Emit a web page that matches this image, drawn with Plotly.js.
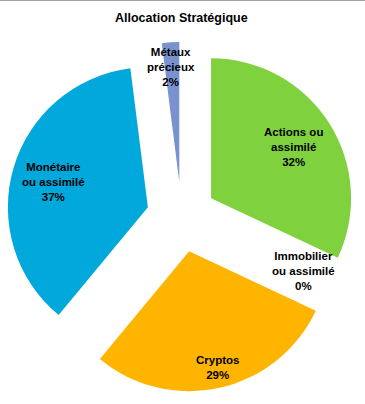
<!DOCTYPE html>
<html>
<head>
<meta charset="utf-8">
<script src="https://cdn.plot.ly/plotly-3.0.1.min.js"></script>
<style>html,body{margin:0;padding:0;background:#fff;}#chart{width:365px;height:404px;}</style>
</head>
<body>
<div id="chart"></div>
<script>
const titleText = "Allocation Stratégique";
const categories = ["Actions ou assimilé", "Immobilier ou assimilé", "Cryptos", "Monétaire ou assimilé", "Métaux précieux"];
const labelLines = ["Actions ou<br>assimilé", "Immobilier<br>ou assimilé", "Cryptos", "Monétaire<br>ou assimilé", "Métaux<br>précieux"];
const values = [32, 0, 29, 37, 2];
const colors = ["#80D13E", "#A5A5A5", "#FFB500", "#00A8DC", "#7A93D0"];

// plot area in pixels
const M = {l: 6, r: 8, t: 42, b: 12};
const W = 365, H = 404;
const pw = W - M.l - M.r, ph = H - M.t - M.b;
function px(x) { return (x - M.l) / pw; }
function py(y) { return (H - M.b - y) / ph; }

// label anchor points (pixels) for each category
const labelPos = [[293, 147], [303, 271], [217, 367], [53, 182], [171, 67]];

const annotations = categories.map((c, i) => ({
  text: labelLines[i] + "<br>" + values[i] + "%",
  xref: "paper", yref: "paper",
  x: px(labelPos[i][0]), y: py(labelPos[i][1]),
  xanchor: "center", yanchor: "middle",
  showarrow: false, align: "center",
  font: {family: "Liberation Sans, Arial, sans-serif", size: 11.5, color: "#000", weight: "bold"}
}));

annotations.push({
  text: titleText, xref: "paper", yref: "paper",
  x: px(181), y: py(18), xanchor: "center", yanchor: "middle", showarrow: false,
  font: {family: "Liberation Sans, Arial, sans-serif", size: 12.5, color: "#000", weight: "bold"}
});

const trace = {
  type: "pie",
  labels: categories,
  values: values,
  sort: false,
  direction: "clockwise",
  rotation: 0,
  pull: values.map(() => 0.25),
  marker: {colors: colors, line: {width: 0}},
  textinfo: "none",
  hoverinfo: "label+percent",
  showlegend: false
};

const layout = {
  width: W, height: H,
  margin: M,
  paper_bgcolor: "#ffffff",
  plot_bgcolor: "#ffffff",
  showlegend: false,
  annotations: annotations,
  shapes: [{type: "line", xref: "paper", yref: "paper",
    x0: px(0), x1: px(W), y0: py(0.5), y1: py(0.5),
    line: {color: "#A0A0A0", width: 1}}]
};

Plotly.newPlot("chart", [trace], layout, {displayModeBar: false, staticPlot: true});
</script>
</body>
</html>
